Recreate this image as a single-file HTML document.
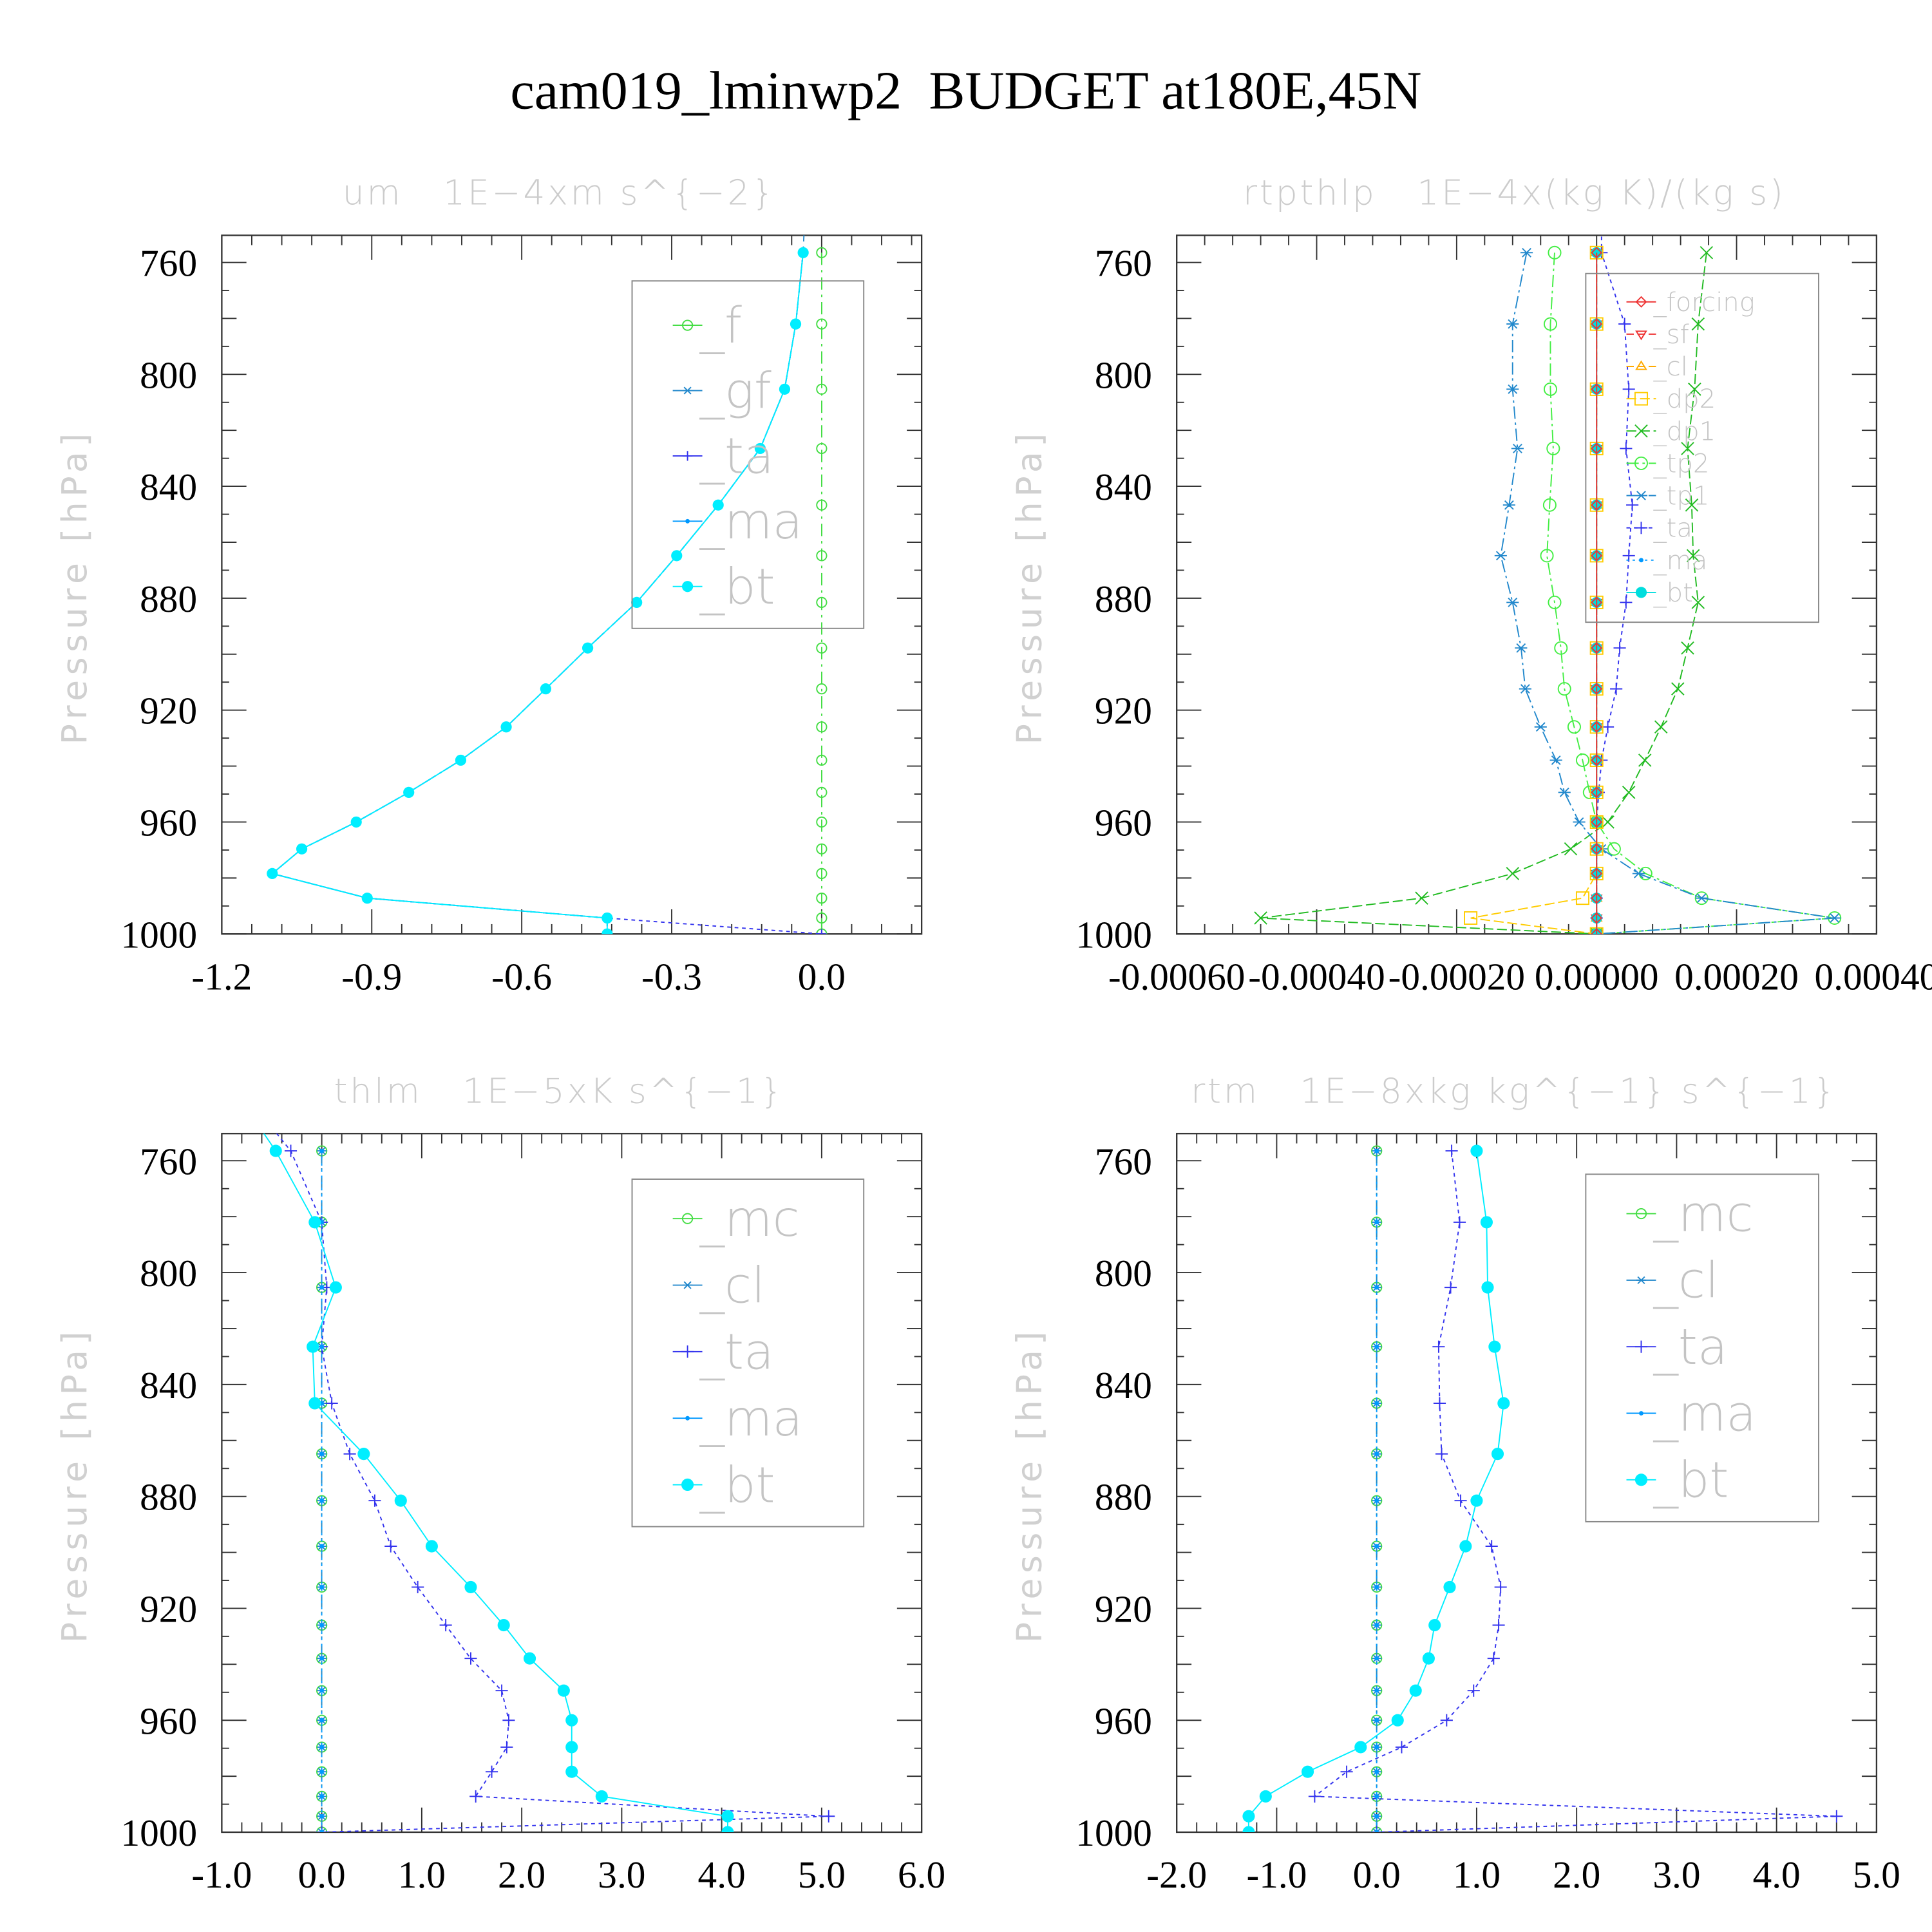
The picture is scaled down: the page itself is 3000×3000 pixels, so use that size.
<!DOCTYPE html>
<html><head><meta charset="utf-8"><style>
html,body{margin:0;padding:0;background:#fff;}
svg{display:block;}
text{white-space:pre;}
</style></head><body>
<svg id="chart" xmlns="http://www.w3.org/2000/svg" width="3000" height="3000" viewBox="0 0 1568 1568">
<rect x="0" y="0" width="1568" height="1568" fill="#fff"/>
<text x="784" y="88" text-anchor="middle" font-family="Liberation Serif, serif" font-size="44" fill="#000" xml:space="preserve">cam019_lminwp2  BUDGET at180E,45N</text>
<g id="root"></g>
</svg>
<script>
const levels = [756.5,782,805.3,826.5,846.7,864.8,881.5,897.8,912.4,926,937.9,949.4,960,969.6,978.4,987.2,994.3,1000];
const yTicks = [760,800,840,880,920,960,1000];
// panel 1: um
const um_f = [0,0,0,0,0,0,0,0,0,0,0,0,0,0,0,0,0,0];
const um_bt = [-0.037,-0.052,-0.074,-0.123,-0.207,-0.29,-0.37,-0.468,-0.552,-0.631,-0.722,-0.826,-0.931,-1.04,-1.099,-0.909,-0.429,-0.429];
const um_ta = [-0.037,-0.052,-0.074,-0.123,-0.207,-0.29,-0.37,-0.468,-0.552,-0.631,-0.722,-0.826,-0.931,-1.04,-1.099,-0.909,-0.429,0];
const um_ticks = ["-1.2","-0.9","-0.6","-0.3","0.0"];
// panel 2: rtpthlp
const rp_zero = [0,0,0,0,0,0,0,0,0,0,0,0,0,0,0,0,0,0];
const rp_dp2 = [0,0,0,0,0,0,0,0,0,0,0,0,0,0,0,-0.00002,-0.00018,0];
const rp_tp1 = [-0.0001,-0.00012,-0.00012,-0.000113,-0.000125,-0.000137,-0.00012,-0.000108,-0.000102,-0.00008,-0.000058,-0.000046,-0.000025,0.000007,0.00006,0.00015,0.00034,0];
const rp_tp2 = [-0.00006,-0.000066,-0.000066,-0.000062,-0.000067,-0.000071,-0.00006,-0.000051,-0.000046,-0.000032,-0.00002,-0.00001,0,0.000025,0.00007,0.00015,0.00034,0];
const rp_dp1 = [0.000157,0.000145,0.00014,0.00013,0.000136,0.000138,0.000145,0.00013,0.000116,0.000092,0.000069,0.000046,0.000016,-0.000037,-0.00012,-0.00025,-0.00048,0];
const rp_ta = [0.000007,0.00004,0.000046,0.000042,0.000051,0.000046,0.000042,0.000033,0.000028,0.000016,0.000007,0.000003,0,0,0,0,0,0];
const rp_ticks = ["-0.00060","-0.00040","-0.00020","0.00000","0.00020","0.00040"];
// panel 3: thlm
const th_zero = [0,0,0,0,0,0,0,0,0,0,0,0,0,0,0,0,0,0];
const th_bt = [-0.46,-0.07,0.14,-0.09,-0.07,0.42,0.79,1.1,1.49,1.82,2.08,2.42,2.5,2.5,2.5,2.8,4.06,4.06];
const th_ta = [-0.31,0,0.05,0,0.1,0.28,0.53,0.69,0.96,1.24,1.49,1.8,1.87,1.85,1.7,1.54,5.07,0];
const th_ticks = ["-1.0","0.0","1.0","2.0","3.0","4.0","5.0","6.0"];
// panel 4: rtm
const rt_zero = [0,0,0,0,0,0,0,0,0,0,0,0,0,0,0,0,0,0];
const rt_bt = [1.0,1.1,1.11,1.18,1.27,1.21,1.0,0.89,0.73,0.58,0.52,0.39,0.21,-0.16,-0.69,-1.11,-1.28,-1.28];
const rt_ta = [0.75,0.83,0.74,0.62,0.63,0.65,0.84,1.15,1.24,1.22,1.17,0.97,0.7,0.25,-0.3,-0.62,4.6,0];
const rt_ticks = ["-2.0","-1.0","0.0","1.0","2.0","3.0","4.0","5.0"];

const NS="http://www.w3.org/2000/svg";
const root=document.getElementById('root');
function mk(tag,attrs,parent){const e=document.createElementNS(NS,tag);for(const k in attrs)e.setAttribute(k,attrs[k]);(parent||root).appendChild(e);return e;}

function marker(g,type,x,y,color,s){
  s=s||6;
  if(type==='circle'){mk('circle',{cx:x,cy:y,r:s,fill:'none',stroke:color,'stroke-width':1},g);}
  else if(type==='fcircle'){mk('circle',{cx:x,cy:y,r:s,fill:color,stroke:'none'},g);}
  else if(type==='dot'){mk('circle',{cx:x,cy:y,r:1.8,fill:color},g);}
  else if(type==='plus'){mk('path',{d:`M${x-s} ${y}H${x+s}M${x} ${y-s}V${y+s}`,stroke:color,'stroke-width':1,fill:'none'},g);}
  else if(type==='x'){mk('path',{d:`M${x-s} ${y-s}L${x+s} ${y+s}M${x-s} ${y+s}L${x+s} ${y-s}`,stroke:color,'stroke-width':1,fill:'none'},g);}
  else if(type==='star'){mk('path',{d:`M${x-s} ${y}H${x+s}M${x-s*0.7} ${y-s*0.7}L${x+s*0.7} ${y+s*0.7}M${x-s*0.7} ${y+s*0.7}L${x+s*0.7} ${y-s*0.7}`,stroke:color,'stroke-width':1,fill:'none'},g);}
  else if(type==='diamond'){mk('path',{d:`M${x} ${y-s}L${x+s} ${y}L${x} ${y+s}L${x-s} ${y}Z`,stroke:color,'stroke-width':1,fill:'none'},g);}
  else if(type==='tdown'){mk('path',{d:`M${x-s} ${y-s*0.6}L${x+s} ${y-s*0.6}L${x} ${y+s}Z`,stroke:color,'stroke-width':1,fill:'none'},g);}
  else if(type==='tup'){mk('path',{d:`M${x-s} ${y+s*0.6}L${x+s} ${y+s*0.6}L${x} ${y-s}Z`,stroke:color,'stroke-width':1,fill:'none'},g);}
  else if(type==='square'){mk('rect',{x:x-s,y:y-s,width:2*s,height:2*s,stroke:color,'stroke-width':1,fill:'none'},g);}
}

function panel(opt){
  const g=mk('g',{});
  
  
  const L=opt.x0,R=opt.x1,T=opt.top,B=T+567;
  const ys=p=>T+22+(p-760)*(545/240);
  const xs=v=>L+(v-opt.xmin)/(opt.xmax-opt.xmin)*(R-L);
  const title=mk('text',{x:(L+R)/2-10,y:T-25,'text-anchor':'middle','font-family':'DejaVu Sans, sans-serif','font-size':28,'font-weight':200,fill:'#cccccc','letter-spacing':2,'xml:space':'preserve'},g);
  title.textContent=opt.title;
  
  
  const yl=mk('text',{x:0,y:0,transform:`translate(${L-110},${T+285}) rotate(-90)`,'text-anchor':'middle','font-family':'DejaVu Sans, sans-serif','font-size':28,fill:'#d0d0d0','letter-spacing':4},g);
  yl.textContent='Pressure [hPa]';
  
  
  const clipId='c'+opt.name;
  const cp=mk('clipPath',{id:clipId},g);mk('rect',{x:L,y:T,width:R-L,height:B-T},cp);
  const tg=mk('g',{stroke:'#333','stroke-width':1},g);
  for(let p=760;p<=1000;p+=10){const y=ys(p);const len=(p%40===0)?20:((p%20===0)?12:6);
    mk('line',{x1:L,y1:y,x2:L+len,y2:y},tg);mk('line',{x1:R,y1:y,x2:R-len,y2:y},tg);}
  yTicks.forEach(p=>{const t=mk('text',{x:L-20,y:ys(p)+11,'text-anchor':'end','font-family':'Liberation Serif, serif','font-size':31,fill:'#000'},g);t.textContent=String(p);
    });
  const majStep=opt.tickStep;
  for(let i=0;i<=Math.round((opt.xmax-opt.xmin)/majStep*5);i++){const v=opt.xmin+i*majStep/5;const x=xs(v);const len=(i%5===0)?20:8;
    mk('line',{x1:x,y1:B,x2:x,y2:B-len},tg);mk('line',{x1:x,y1:T,x2:x,y2:T+len},tg);}
  opt.ticks.forEach((lab,i)=>{const t=mk('text',{x:xs(opt.xmin+i*majStep),y:B+45,'text-anchor':'middle','font-family':'Liberation Serif, serif','font-size':31,fill:'#000'},g);t.textContent=lab;
    });
  mk('rect',{x:L,y:T,width:R-L,height:B-T,fill:'none',stroke:'#333','stroke-width':1.2},g);
  const sg=mk('g',{'clip-path':`url(#${clipId})`},g);
  opt.series.forEach(s=>{
    const pts=s.data.map((v,i)=>[xs(v),ys(levels[i])]);
    let d='M'+pts.map(p=>p[0].toFixed(1)+' '+p[1].toFixed(1)).join('L');
    if(s.ext){d='M'+xs(s.ext[0]).toFixed(1)+' '+(T-5)+'L'+d.slice(1);}
    const line=mk('path',{d:d,fill:'none',stroke:s.color,'stroke-width':1,'stroke-dasharray':s.dash||'none'},sg);
    
    
    pts.forEach(p=>marker(sg,s.mk,p[0],p[1],s.color,s.ms));
  });
  const lg=opt.legend;
  const lgG=mk('g',{},g);
  
  
  mk('rect',{x:lg.x,y:lg.y,width:lg.w,height:lg.h,fill:'none',stroke:'#888','stroke-width':1},lgG);
  lg.items.forEach((s,i)=>{const y=lg.y+lg.first+i*lg.step;const sx=lg.x+45;
    mk('line',{x1:sx-12,y1:y,x2:sx+12,y2:y,stroke:s.color,'stroke-width':1,'stroke-dasharray':s.dash||'none'},lgG);
    marker(lgG,s.mk,sx,y,s.color,s.ms);
    const t=mk('text',{x:sx+10,y:y+lg.fs*0.35,'font-family':'DejaVu Sans, sans-serif','font-size':lg.fs,'font-weight':200,fill:'#c4c4c4'},lgG);
    t.textContent=s.label;
    
    
  });
}

const S_f={label:'_f',data:um_f,color:'#44dd44',mk:'circle',dash:'10 4 2 4',ms:4};
panel({name:'panel-um',title:'um   1E\u22124xm s^{\u22122}',x0:180,x1:748,top:191,xmin:-1.2,xmax:0.2,tickStep:0.3,ticks:um_ticks,
 series:[S_f,
  {label:'_gf',data:um_bt,color:'#2288cc',mk:'star',dash:'10 4 2 4',ms:4,ext:[-0.035]},
  {label:'_ta',data:um_ta,color:'#3333ee',mk:'plus',dash:'3 3',ms:4},
  {label:'_ma',data:um_bt,color:'#0099ff',mk:'dot',dash:'2 3'},
  {label:'_bt',data:um_bt,color:'#00eeff',mk:'fcircle',ms:4.5,dash:'none'}],
 legend:{x:513,y:228,w:188,h:282,first:36,step:53,fs:40,items:[
  {label:'_f',color:'#44dd44',mk:'circle',ms:4},{label:'_gf',color:'#2288cc',mk:'star',ms:4},{label:'_ta',color:'#3333ee',mk:'plus',ms:4},{label:'_ma',color:'#0099ff',mk:'dot'},{label:'_bt',color:'#00eeff',mk:'fcircle',ms:4.5}]}});

const rpItems=[
 {label:'_forcing',data:rp_zero,color:'#ee3333',mk:'diamond',ms:4},
 {label:'_sf',data:rp_zero,color:'#ee3333',mk:'tdown',ms:4,dash:'6 3'},
 {label:'_cl',data:rp_zero,color:'#ffaa00',mk:'tup',ms:4,dash:'6 3'},
 {label:'_dp2',data:rp_dp2,color:'#ffcc00',mk:'square',ms:5,dash:'8 3'},
 {label:'_dp1',data:rp_dp1,color:'#22bb22',mk:'x',ms:5,dash:'8 3'},
 {label:'_tp2',data:rp_tp2,color:'#44ee44',mk:'circle',ms:5,dash:'10 3 2 3'},
 {label:'_tp1',data:rp_tp1,color:'#2288cc',mk:'star',ms:5,dash:'10 3 2 3'},
 {label:'_ta',data:rp_ta,color:'#3333ee',mk:'plus',ms:5,dash:'3 3',ext:[0.000007]},
 {label:'_ma',data:rp_zero,color:'#0099ff',mk:'dot',dash:'2 3'},
 {label:'_bt',data:rp_zero,color:'#00dddd',mk:'fcircle',ms:4.5}];
panel({name:'panel-rtpthlp',title:'rtpthlp   1E\u22124x(kg K)/(kg s)',x0:955,x1:1523,top:191,xmin:-0.0006,xmax:0.0004,tickStep:0.0002,ticks:rp_ticks,
 series:[rpItems[4],rpItems[5],rpItems[6],rpItems[7],rpItems[3],rpItems[2],rpItems[1],rpItems[8],rpItems[9],rpItems[0]],
 legend:{x:1287,y:222,w:189,h:283,first:23,step:26.2,fs:21,items:rpItems}});

panel({name:'panel-thlm',title:'thlm   1E\u22125xK s^{\u22121}',x0:180,x1:748,top:920,xmin:-1,xmax:6,tickStep:1,ticks:th_ticks,
 series:[{label:'_mc',data:th_zero,color:'#44dd44',mk:'circle',ms:4,dash:'10 4 2 4'},
  {label:'_cl',data:th_zero,color:'#2288cc',mk:'star',ms:4,dash:'10 4 2 4'},
  {label:'_ta',data:th_ta,color:'#3333ee',mk:'plus',ms:5,dash:'3 3',ext:[-0.5]},
  {label:'_ma',data:th_zero,color:'#0099ff',mk:'dot',dash:'2 3'},
  {label:'_bt',data:th_bt,color:'#00eeff',mk:'fcircle',ms:5,ext:[-0.62]}],
 legend:{x:513,y:957,w:188,h:282,first:32,step:54,fs:40,items:[
  {label:'_mc',color:'#44dd44',mk:'circle',ms:4},{label:'_cl',color:'#2288cc',mk:'star',ms:4},{label:'_ta',color:'#3333ee',mk:'plus',ms:5},{label:'_ma',color:'#0099ff',mk:'dot'},{label:'_bt',color:'#00eeff',mk:'fcircle',ms:5}]}});

panel({name:'panel-rtm',title:'rtm   1E\u22128xkg kg^{\u22121} s^{\u22121}',x0:955,x1:1523,top:920,xmin:-2,xmax:5,tickStep:1,ticks:rt_ticks,
 series:[{label:'_mc',data:rt_zero,color:'#44dd44',mk:'circle',ms:4,dash:'10 4 2 4'},
  {label:'_cl',data:rt_zero,color:'#2288cc',mk:'star',ms:4,dash:'10 4 2 4'},
  {label:'_ta',data:rt_ta,color:'#3333ee',mk:'plus',ms:5,dash:'3 3'},
  {label:'_ma',data:rt_zero,color:'#0099ff',mk:'dot',dash:'2 3'},
  {label:'_bt',data:rt_bt,color:'#00eeff',mk:'fcircle',ms:5}],
 legend:{x:1287,y:953,w:189,h:282,first:32,step:54,fs:40,items:[
  {label:'_mc',color:'#44dd44',mk:'circle',ms:4},{label:'_cl',color:'#2288cc',mk:'star',ms:4},{label:'_ta',color:'#3333ee',mk:'plus',ms:5},{label:'_ma',color:'#0099ff',mk:'dot'},{label:'_bt',color:'#00eeff',mk:'fcircle',ms:5}]}});
</script>
</body></html>
